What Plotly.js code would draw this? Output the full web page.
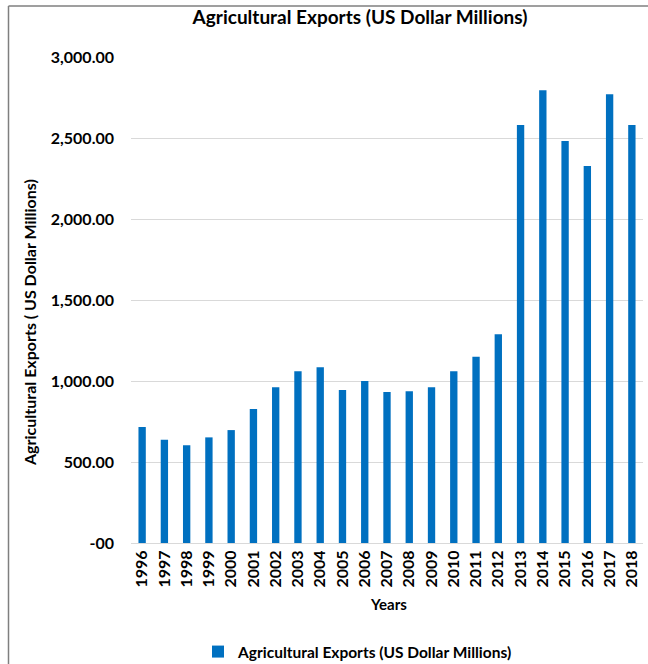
<!DOCTYPE html>
<html>
<head>
<meta charset="utf-8">
<script src="https://cdn.plot.ly/plotly-3.0.1.min.js"></script>
<style>html,body{margin:0;padding:0;background:#fff;}#chart{width:648px;height:664px;}</style>
</head>
<body>
<div id="chart"></div>
<script>
const years = ["1996","1997","1998","1999","2000","2001","2002","2003","2004","2005","2006","2007","2008","2009","2010","2011","2012","2013","2014","2015","2016","2017","2018"];
const exportsValues = [716, 638, 603, 652, 697, 827, 961, 1060, 1085, 944, 1000, 932, 936, 961, 1060, 1150, 1288, 2580, 2794, 2481, 2327, 2770, 2580];
const yTickVals = [0, 500, 1000, 1500, 2000, 2500, 3000];
const yTickText = ["-00", "500.00", "1,000.00", "1,500.00", "2,000.00", "2,500.00", "3,000.00"];
const seriesName = "Agricultural Exports (US Dollar Millions)";

const FONT = "Lato, 'Open Sans', sans-serif";
const trace = {
  type: "bar",
  x: years,
  y: exportsValues,
  name: seriesName,
  marker: {color: "#0070C0"},
  showlegend: true,
  hoverinfo: "x+y"
};
const layout = {
  width: 648, height: 664,
  margin: {l: 131, r: 5, t: 57, b: 121},
  paper_bgcolor: "#ffffff",
  plot_bgcolor: "#ffffff",
  bargap: 0.67,
  font: {family: FONT, color: "#000000"},
  title: {
    text: "<b>Agricultural Exports (US Dollar Millions)</b>",
    font: {family: FONT, size: 19, color: "#000"},
    xref: "container", x: 360/648, xanchor: "center",
    yref: "container", y: 1 - 17/664, yanchor: "middle"
  },
  xaxis: {
    type: "category",
    tickangle: -90,
    tickfont: {family: FONT, size: 16, color: "#000", weight: "bold"},
    showgrid: false,
    showline: true, linecolor: "#d9d9d9", linewidth: 1,
    ticks: "",
    ticklabelstandoff: 0,
    automargin: false
  },
  yaxis: {
    range: [0, 3000],
    tickvals: yTickVals,
    ticktext: yTickText,
    tickfont: {family: FONT, size: 16, color: "#000", weight: "bold"},
    showgrid: true, gridcolor: "#d9d9d9", gridwidth: 1,
    zeroline: false,
    showline: false,
    ticks: "", ticklen: 0,
    ticklabelstandoff: 16,
    automargin: false
  },
  legend: {
    orientation: "h",
    x: 358/648, xref: "container", xanchor: "center",
    y: 1 - 652/664, yref: "container", yanchor: "middle",
    font: {family: FONT, size: 15.5, color: "#000", weight: "bold"},
    itemwidth: 30
  },
  annotations: [
    {
      text: "<b>Agricultural Exports ( US Dollar Millions)</b>",
      xref: "paper", yref: "paper",
      x: (29 - 131)/512, y: (543 - 323)/486,
      xanchor: "center", yanchor: "middle",
      textangle: -90, showarrow: false,
      font: {family: FONT, size: 16, color: "#000"}
    },
    {
      text: "<b>Years</b>",
      xref: "paper", yref: "paper",
      x: (388 - 131)/512, y: (543 - 604)/486,
      xanchor: "center", yanchor: "middle",
      showarrow: false,
      font: {family: FONT, size: 15, color: "#000"}
    }
  ],
  shapes: [
    {type: "line", xref: "paper", yref: "paper",
     x0: (8.5 - 131)/512, x1: (648 - 131)/512, y0: (543 - 6)/486, y1: (543 - 6)/486,
     line: {color: "#7f7f7f", width: 1.5}},
    {type: "line", xref: "paper", yref: "paper",
     x0: (8.5 - 131)/512, x1: (8.5 - 131)/512, y0: (543 - 6)/486, y1: (543 - 670)/486,
     line: {color: "#7f7f7f", width: 1.5}}
  ]
};
Plotly.newPlot("chart", [trace], layout, {displayModeBar: false, staticPlot: true});
</script>
</body>
</html>
